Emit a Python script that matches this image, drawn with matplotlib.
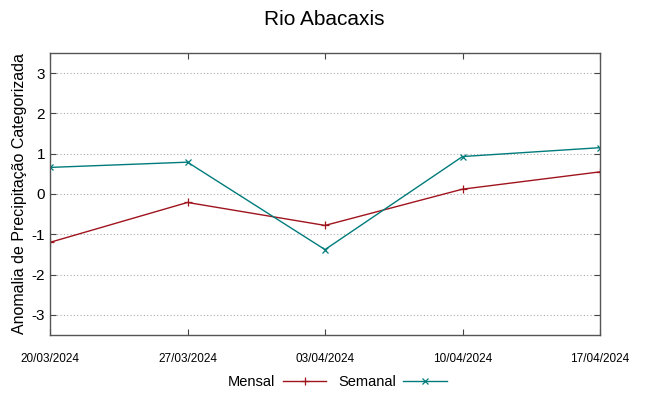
import matplotlib
matplotlib.use("Agg")
import matplotlib.pyplot as plt

DATES = ["20/03/2024", "27/03/2024", "03/04/2024", "10/04/2024", "17/04/2024"]
MENSAL = [-1.20, -0.21, -0.78, 0.12, 0.55]
SEMANAL = [0.66, 0.79, -1.38, 0.93, 1.15]
Y_TICKS = [-3, -2, -1, 0, 1, 2, 3]


def main() -> None:
    plt.rcParams["font.family"] = ["Liberation Sans", "DejaVu Sans"]

    fig = plt.figure(figsize=(6.49, 3.96), dpi=100)
    ax = fig.add_axes([50 / 649, 1 - 335 / 396, 550 / 649, 282 / 396])

    x = list(range(len(DATES)))
    ax.plot(x, MENSAL, color="#a0141e", marker="+", markersize=6, markeredgewidth=0.9,
            linewidth=1.0, label="Mensal")
    ax.plot(x, SEMANAL, color="#007b7b", marker="x", markersize=5, markeredgewidth=0.9,
            linewidth=1.0, label="Semanal")

    ax.set_xlim(0, len(DATES) - 1)
    ax.set_ylim(-3.5, 3.5)
    ax.set_xticks(x)
    ax.set_xticklabels(DATES, fontsize=8.5)
    ax.set_yticks(Y_TICKS)
    ax.set_yticklabels([str(t) for t in Y_TICKS], fontsize=11)
    ax.tick_params(direction="in", top=True, right=True, length=4, color="#444444")
    ax.tick_params(axis="x", pad=13)
    ax.yaxis.grid(True, linestyle=(0, (1, 2)), color="#aaaaaa", linewidth=0.8)
    for spine in ax.spines.values():
        spine.set_color("#555555")
        spine.set_linewidth(1.0)

    ax.set_ylabel("Anomalia de Precipitação Categorizada", fontsize=11.5, labelpad=3)
    fig.suptitle("Rio Abacaxis", fontsize=15, y=0.975)

    fig.legend(
        loc="lower center",
        bbox_to_anchor=(0.52, -0.015),
        ncol=2,
        frameon=False,
        markerfirst=False,
        fontsize=10.5,
        handlelength=3,
        columnspacing=0.8,
        handletextpad=0.5,
    )

    fig.savefig("out.png", dpi=100)
    plt.close(fig)


if __name__ == "__main__":
    main()
